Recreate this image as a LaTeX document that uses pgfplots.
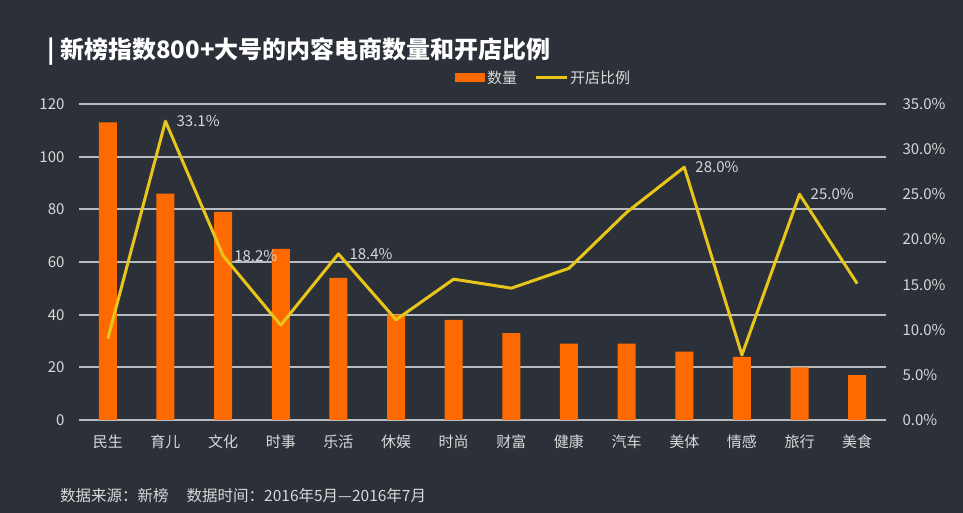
\documentclass[border=0pt]{standalone}
\usepackage{fontspec}
\setmainfont{Noto Sans CJK SC}
\usepackage{pgfplots}
\pgfplotsset{compat=1.18}
\definecolor{bg}{HTML}{2C3139}
\definecolor{gridc}{HTML}{B8BCC0}
\definecolor{barc}{HTML}{FF6A00}
\definecolor{linec}{HTML}{E8C51A}
\definecolor{txt}{HTML}{D8D8D8}
\begin{document}
\begin{tikzpicture}[x=1pt,y=1pt]
\fill[bg] (0,0) rectangle (963,513);
\node[anchor=west, text=white, font=\fontsize{24}{26}\selectfont\bfseries, inner sep=0pt] at (47,461) {| 新榜指数800+大号的内容电商数量和开店比例};
\node[anchor=west, text=txt, font=\fontsize{15.5}{17}\selectfont, inner sep=0pt] at (60,17) {数据来源：新榜\hspace{18pt}数据时间：2016年5月—2016年7月};
\begin{axis}[
  at={(79pt,93pt)}, anchor=south west,
  scale only axis, width=807pt, height=316pt,
  xmin=-0.5, xmax=13.5, ymin=0, ymax=120,
  ytick={0,20,...,120},
  xtick={0,...,13},
  xticklabels={民生,育儿,文化,时事,乐活,休娱,时尚,财富,健康,汽车,美体,情感,旅行,美食},
  axis line style={draw=none}, major tick length=0pt,
  ymajorgrids, grid style={gridc, line width=1.8pt},
  tick label style={text=txt, font=\fontsize{15}{17}\selectfont},
  yticklabel style={anchor=east, xshift=-11pt},
  xticklabel style={yshift=-11pt},
  /pgf/number format/assume math mode=true,
  legend columns=2,
  legend style={at={(0.4659,1.0823)}, anchor=west, draw=none, fill=none, text=txt,
    font=\fontsize{15}{17}\selectfont, inner xsep=0pt, inner ysep=0pt,
    /tikz/every even column/.append style={column sep=15pt}},
]
\addplot[ybar, bar width=18pt, fill=barc, draw=none,
  legend image code/.code={\fill[barc] (0pt,-4.5pt) rectangle (30pt,4.5pt);}]
  coordinates {(0,113)(1,86)(2,79)(3,65)(4,54)(5,40)(6,38)(7,33)(8,29)(9,29)(10,26)(11,24)(12,20)(13,17)};
\addlegendentry{数量}
\addlegendimage{legend image code/.code={\draw[linec, line width=3pt] (0pt,0pt) -- (31pt,0pt);}}
\addlegendentry{开店比例}
\end{axis}
\begin{axis}[
  at={(79pt,93pt)}, anchor=south west,
  scale only axis, width=807pt, height=316pt,
  xmin=-0.5, xmax=13.5, ymin=0, ymax=35,
  ytick={0,5,...,35}, xtick=\empty,
  axis y line*=right, axis x line=none,
  axis line style={draw=none}, major tick length=0pt,
  tick label style={text=txt, font=\fontsize{15}{17}\selectfont},
  yticklabel={\pgfmathprintnumber[fixed,fixed zerofill,precision=1]{\tick}\%},
  yticklabel style={anchor=west, xshift=13pt},
  /pgf/number format/assume math mode=true,
]
\addplot[linec, line width=3pt, line join=round, mark=none]
  coordinates {(0,9.0)(1,33.1)(2,18.2)(3,10.5)(4,18.4)(5,11.1)(6,15.6)(7,14.6)(8,16.8)(9,23.0)(10,28.0)(11,7.2)(12,25.0)(13,15.1)};
\addplot[draw=none, mark=none, point meta=y,
  nodes near coords={\pgfmathprintnumber[fixed,fixed zerofill,precision=1]{\pgfplotspointmeta}\%},
  nodes near coords style={anchor=west, xshift=10pt, text=txt, font=\fontsize{15}{17}\selectfont, inner sep=1pt}]
  coordinates {(1,33.1)(2,18.2)(4,18.4)(10,28.0)(12,25.0)};
\end{axis}
\end{tikzpicture}
\end{document}
